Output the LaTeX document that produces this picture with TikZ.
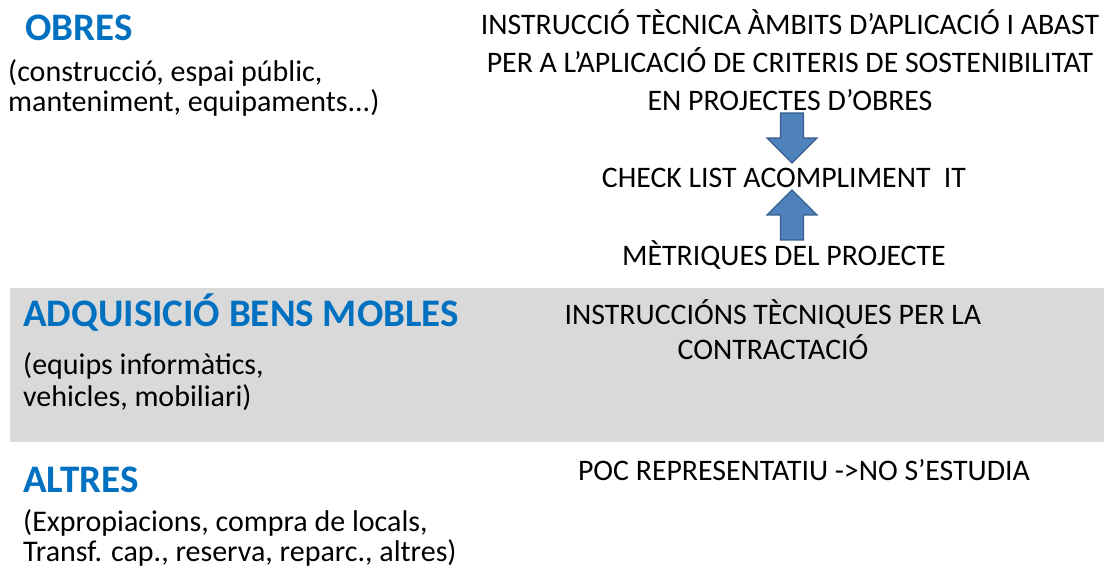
\documentclass[tikz,border=0pt]{standalone}
\usepackage{fontspec}
\setmainfont{Carlito}
\definecolor{hdblue}{HTML}{0070C0}
\definecolor{band}{HTML}{D9D9D9}
\definecolor{arrfill}{HTML}{4F81BD}
\definecolor{arrline}{HTML}{385D8A}
\begin{document}
\begin{tikzpicture}[x=1pt,y=-1pt,
  head/.style={inner sep=0pt, anchor=west, text=hdblue, font=\fontsize{39}{44}\selectfont\bfseries},
  body/.style={inner sep=0pt, anchor=west, align=left, font=\fontsize{30}{30}\selectfont},
  rtext/.style={inner sep=0pt, align=center, font=\fontsize{29.8}{38}\selectfont},
  blockarrow/.style={fill=arrfill, draw=arrline, line width=1.2pt, line join=miter}]
\useasboundingbox (0,0) rectangle (1104,577);
\fill[band] (10,288) rectangle (1104,442);
% OBRES
\node[head] (obres) at (25,28) {OBRES};
\node[body] (obresd) at (8,88) {(construcció, espai públic,\\manteniment, equipaments...)};
\node[rtext] (it) at (790,60) {INSTRUCCIÓ TÈCNICA ÀMBITS D’APLICACIÓ I ABAST\\PER A L’APLICACIÓ DE CRITERIS DE SOSTENIBILITAT\\EN PROJECTES D’OBRES};
\node[rtext] (check) at (784,178) {CHECK LIST ACOMPLIMENT\ \ IT};
\node[rtext] (metr) at (784,255) {MÈTRIQUES DEL PROJECTE};
% arrows
\coordinate (d) at (792,113);
\draw[blockarrow] (d) ++(-11.5,0) -- ++(23,0) -- ++(0,25) -- ++(13.5,0) -- (792,163) -- (767,138) -- ++(13.5,0) -- cycle;
\coordinate (u) at (792,240);
\draw[blockarrow] (u) ++(-11.5,0) -- ++(23,0) -- ++(0,-25) -- ++(13.5,0) -- (792,190) -- (767,215) -- ++(13.5,0) -- cycle;
% ADQUISICIO
\node[head] (adq) at (23,313) {ADQUISICIÓ BENS MOBLES};
\node[body, font=\fontsize{30}{32}\selectfont] (adqd) at (23,382) {(equips informàtics,\\vehicles, mobiliari)};
\node[rtext, font=\fontsize{29.8}{35}\selectfont] (itc) at (773,330) {INSTRUCCIÓNS TÈCNIQUES PER LA\\CONTRACTACIÓ};
% ALTRES
\node[head] (alt) at (23,480) {ALTRES};
\node[body] (altd) at (23,538) {(Expropiacions, compra de locals,\\Transf. cap., reserva, reparc., altres)};
\node[rtext] (poc) at (804,470) {POC REPRESENTATIU ->NO S’ESTUDIA};
\end{tikzpicture}
\end{document}
